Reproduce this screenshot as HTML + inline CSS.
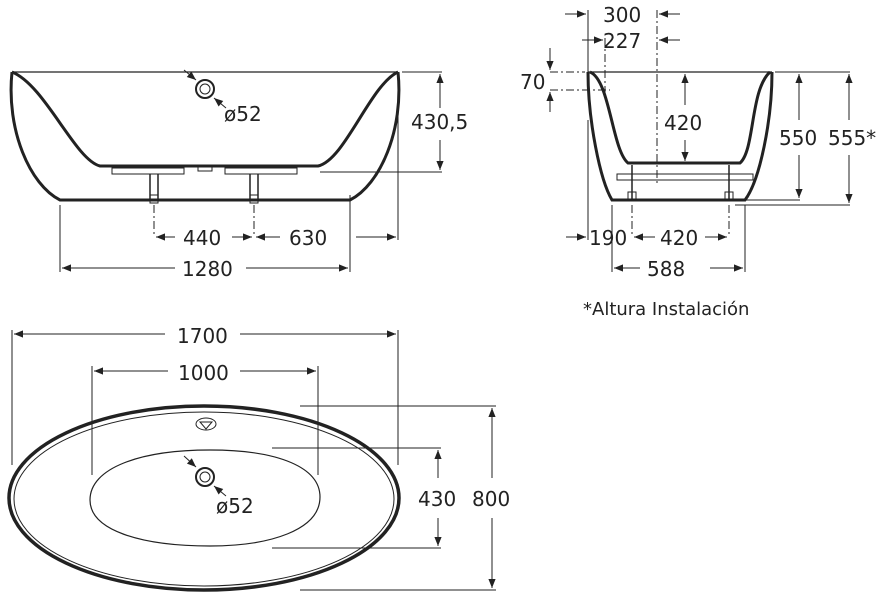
<!DOCTYPE html>
<html><head><meta charset="utf-8"><style>
html,body{margin:0;padding:0;background:#fff;width:880px;height:600px;overflow:hidden}
text{font-family:"DejaVu Sans","Liberation Sans",sans-serif;font-size:20px;fill:#222}
</style></head><body>
<svg width="880" height="600" viewBox="0 0 880 600" xmlns="http://www.w3.org/2000/svg">
<defs>
<marker id="a" viewBox="0 0 10 10" refX="10" refY="5" markerWidth="12" markerHeight="9" orient="auto-start-reverse" markerUnits="userSpaceOnUse"><path d="M0,1 L10,5 L0,9 z" fill="#222"/></marker>
</defs>
<g stroke="#222" stroke-width="1" fill="none">
<!-- FRONT VIEW -->
<path d="M12,72 L398,72" stroke-width="1.2"/>
<path d="M12,72 C6,130 30,185 60,200 L350,200 C380,185 404,130 398,72" stroke-width="3"/>
<path d="M12,72 C45,85 75,160 100,166 L318,166 C345,160 370,85 398,72" stroke-width="3"/>
<rect x="112" y="168" width="72" height="6" stroke-width="1"/>
<rect x="225" y="168" width="72" height="6" stroke-width="1"/>
<rect x="198" y="166" width="14" height="5"/>
<path d="M150,174 L150,200 M158,174 L158,200 M250,174 L250,200 M258,174 L258,200" stroke-width="1.5"/>
<rect x="150" y="195" width="8" height="8"/><rect x="250" y="195" width="8" height="8"/>
<circle cx="205" cy="89" r="9" stroke-width="2"/><circle cx="205" cy="89" r="5"/>
<path d="M184,70 L196,80" marker-end="url(#a)"/><path d="M226,108 L214,98" marker-end="url(#a)"/>
<path d="M154,205 L154,235 M254,205 L254,235" stroke-dasharray="8 3 2 3"/>
<path d="M60,205 L60,272 M350,195 L350,272 M398,75 L398,240"/>
<path d="M402,72 L442,72 M320,172 L442,172"/>
<path d="M440,108 L440,74" marker-end="url(#a)"/><path d="M440,140 L440,170" marker-end="url(#a)"/>
<path d="M175,237 L156,237" marker-end="url(#a)"/><path d="M232,237 L252,237" marker-end="url(#a)"/>
<path d="M280,237 L256,237" marker-end="url(#a)"/><path d="M356,237 L396,237" marker-end="url(#a)"/>
<path d="M175,268 L62,268" marker-end="url(#a)"/><path d="M246,268 L348,268" marker-end="url(#a)"/>
<!-- SIDE VIEW -->
<path d="M588,72 L772,72" stroke-width="1.2"/>
<path d="M588,72 C588,120 600,180 612,200 L745,200 C760,180 772,120 772,72" stroke-width="3"/>
<path d="M590,72 C610,80 612,150 628,163 L740,163 C755,150 750,90 770,72" stroke-width="3"/>
<rect x="617" y="174" width="136" height="6"/>
<path d="M632,165 L632,200 M729,165 L729,200" stroke-width="1.5"/>
<rect x="628" y="192" width="8" height="8"/><rect x="725" y="192" width="8" height="8"/>
<path d="M588,10 L588,72 M588,120 L588,240"/>
<path d="M605,38 L605,100 M657,10 L657,185" stroke-dasharray="8 3 2 3"/>
<path d="M565,14 L586,14" marker-end="url(#a)"/><path d="M680,14 L659,14" marker-end="url(#a)"/>
<path d="M582,40 L603,40" marker-end="url(#a)"/><path d="M680,40 L659,40" marker-end="url(#a)"/>
<path d="M550,72 L585,72 M550,90 L610,90" stroke-dasharray="8 3 2 3"/>
<path d="M550,48 L550,70" marker-end="url(#a)"/><path d="M550,112 L550,92" marker-end="url(#a)"/>
<path d="M685,105 L685,74" marker-end="url(#a)"/><path d="M685,140 L685,161" marker-end="url(#a)"/>
<path d="M775,72 L850,72 M740,200 L800,200 M735,205 L850,205"/>
<path d="M799,120 L799,74" marker-end="url(#a)"/><path d="M799,155 L799,198" marker-end="url(#a)"/>
<path d="M849,120 L849,74" marker-end="url(#a)"/><path d="M849,155 L849,203" marker-end="url(#a)"/>
<path d="M612,205 L612,272 M745,205 L745,272"/>
<path d="M632,205 L632,235 M729,205 L729,235" stroke-dasharray="8 3 2 3"/>
<path d="M566,237 L586,237" marker-end="url(#a)"/>
<path d="M655,237 L634,237" marker-end="url(#a)"/><path d="M705,237 L727,237" marker-end="url(#a)"/>
<path d="M640,268 L614,268" marker-end="url(#a)"/><path d="M710,268 L743,268" marker-end="url(#a)"/>
<!-- TOP VIEW -->
<ellipse cx="204" cy="498" rx="195" ry="92" stroke-width="3.5"/>
<ellipse cx="204" cy="499" rx="190" ry="87" stroke-width="1"/>
<path d="M210,450 C280,450 320,468 320,497 C320,530 270,546 210,546 C140,546 90,530 90,500 C90,468 140,450 210,450 z" stroke-width="1.2"/>
<ellipse cx="206" cy="424" rx="10" ry="6"/><path d="M200,422 L212,422 L206,429 z"/>
<circle cx="205" cy="477" r="9" stroke-width="2"/><circle cx="205" cy="477" r="5"/>
<path d="M184,456 L196,467" marker-end="url(#a)"/><path d="M226,496 L214,486" marker-end="url(#a)"/>
<path d="M12,330 L12,465 M398,330 L398,465 M92,366 L92,475 M318,366 L318,475"/>
<path d="M165,334 L14,334" marker-end="url(#a)"/><path d="M240,334 L396,334" marker-end="url(#a)"/>
<path d="M168,371 L94,371" marker-end="url(#a)"/><path d="M240,371 L316,371" marker-end="url(#a)"/>
<path d="M300,406 L496,406 M300,590 L496,590 M272,448 L441,448 M272,548 L441,548"/>
<path d="M438,478 L438,450" marker-end="url(#a)"/><path d="M438,518 L438,546" marker-end="url(#a)"/>
<path d="M492,478 L492,408" marker-end="url(#a)"/><path d="M492,518 L492,588" marker-end="url(#a)"/>
</g>
<text x="224" y="121">ø52</text>
<text x="411" y="129">430,5</text>
<text x="183" y="245">440</text>
<text x="289" y="245">630</text>
<text x="182" y="276">1280</text>
<text x="603" y="22">300</text>
<text x="603" y="48">227</text>
<text x="520" y="89">70</text>
<text x="664" y="130">420</text>
<text x="779" y="145">550</text>
<text x="828" y="145">555*</text>
<text x="589" y="245">190</text>
<text x="660" y="245">420</text>
<text x="647" y="276">588</text>
<text x="583" y="315" style="font-size:18px">*Altura Instalación</text>
<text x="177" y="343">1700</text>
<text x="178" y="380">1000</text>
<text x="216" y="513">ø52</text>
<text x="418" y="506">430</text>
<text x="472" y="506">800</text>
</svg>
</body></html>
